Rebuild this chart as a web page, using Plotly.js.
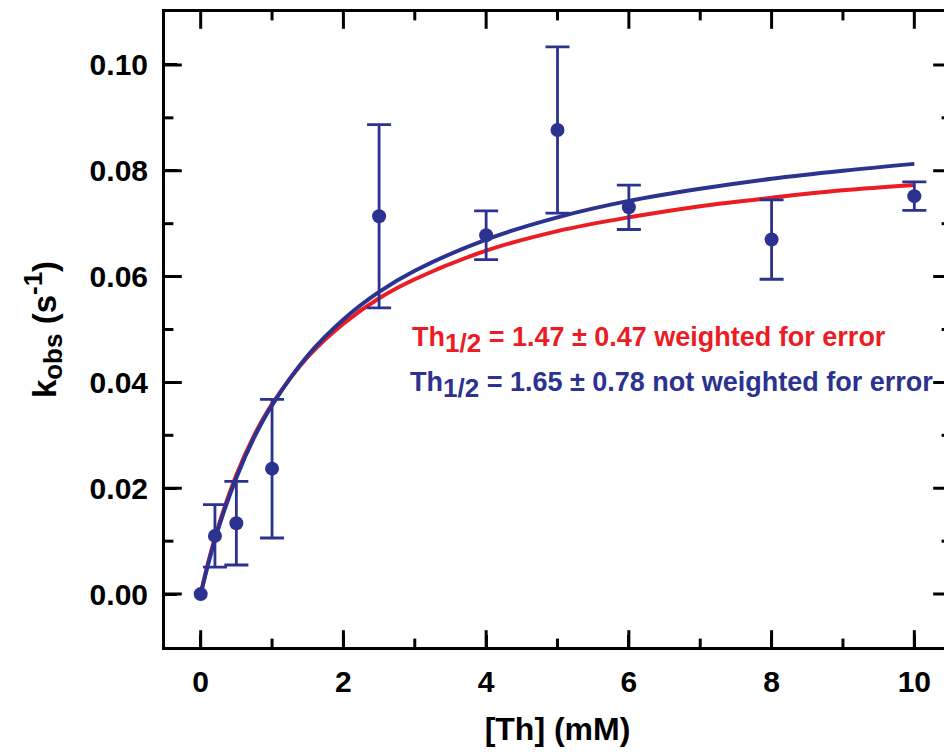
<!DOCTYPE html>
<html>
<head>
<meta charset="utf-8">
<script src="https://cdn.plot.ly/plotly-3.0.1.min.js"></script>
<style>
html,body{margin:0;padding:0;overflow:hidden;background:#fff;}
#chart{width:960px;height:752px;}
</style>
</head>
<body>
<div id="chart"></div>
<script>
// Measured data
const thConc = [0, 0.2, 0.5, 1, 2.5, 4, 5, 6, 8, 10];
const kObs   = [0, 0.0110, 0.0134, 0.0237, 0.0714, 0.0678, 0.0877, 0.0731, 0.0670, 0.0752];
const kErr   = [0, 0.0059, 0.0079, 0.0131, 0.0173, 0.0046, 0.0157, 0.0042, 0.0075, 0.0027];

// Fit curves
const fitX        = [0, 0.1, 0.25, 0.5, 0.75, 1, 1.5, 2, 2.5, 3, 4, 5, 6, 7, 8, 9, 10];
const fitWeighted = [0, 0.0057, 0.0129, 0.0225, 0.0300, 0.0359, 0.0448, 0.0511, 0.0559, 0.0595, 0.0649, 0.0686, 0.0712, 0.0733, 0.0749, 0.0763, 0.0773];
const fitUnweighted = [0, 0.0054, 0.0125, 0.0220, 0.0296, 0.0357, 0.0451, 0.0519, 0.0571, 0.0611, 0.0670, 0.0712, 0.0743, 0.0766, 0.0785, 0.0800, 0.0813];

// Axis ranges and ticks
const xRange = [-0.5, 10.5];
const yRange = [-0.01, 0.11];
const xMajor = [0, 2, 4, 6, 8, 10];
const xMinor = [1, 3, 5, 7, 9];
const yMajor = [0, 0.02, 0.04, 0.06, 0.08, 0.10];
const yMinor = [0.01, 0.03, 0.05, 0.07, 0.09];

const NAVY = '#2B3290';
const RED = '#EC1C24';
const FONT = 'Liberation Sans, Arial, sans-serif';

const withErr = thConc.map((_, i) => i).filter(i => kErr[i] > 0);
const noErr = thConc.map((_, i) => i).filter(i => !(kErr[i] > 0));

// inward tick marks on all four sides: line markers centred on the frame, clipped to the plot area
function tickTrace(xs, ys, symbol, size) {
  return {x: xs, y: ys, mode: 'markers', cliponaxis: true, hoverinfo: 'skip',
    marker: {symbol: symbol, size: size, color: '#000', line: {color: '#000', width: 3}}};
}
const tickTraces = [
  tickTrace(xMajor, xMajor.map(() => yRange[0]), 'line-ns', 24),
  tickTrace(xMajor, xMajor.map(() => yRange[1]), 'line-ns', 24),
  tickTrace(xMinor, xMinor.map(() => yRange[0]), 'line-ns', 12),
  tickTrace(xMinor, xMinor.map(() => yRange[1]), 'line-ns', 12),
  tickTrace(yMajor.map(() => xRange[0]), yMajor, 'line-ew', 24),
  tickTrace(yMajor.map(() => xRange[1]), yMajor, 'line-ew', 24),
  tickTrace(yMinor.map(() => xRange[0]), yMinor, 'line-ew', 12),
  tickTrace(yMinor.map(() => xRange[1]), yMinor, 'line-ew', 12)
];

const traces = tickTraces.concat([
  {x: fitX, y: fitWeighted, mode: 'lines', line: {color: RED, width: 4, shape: 'spline', smoothing: 1}, hoverinfo: 'skip'},
  {x: fitX, y: fitUnweighted, mode: 'lines', line: {color: NAVY, width: 4, shape: 'spline', smoothing: 1}, hoverinfo: 'skip'},
  {x: withErr.map(i => thConc[i]), y: withErr.map(i => kObs[i]), mode: 'markers',
   marker: {color: NAVY, size: 14, symbol: 'circle'},
   error_y: {type: 'data', array: withErr.map(i => kErr[i]), visible: true, color: NAVY, thickness: 2.8, width: 12}},
  {x: noErr.map(i => thConc[i]), y: noErr.map(i => kObs[i]), mode: 'markers',
   marker: {color: NAVY, size: 14, symbol: 'circle'}}
]);

const axisCommon = {
  showline: true, linecolor: '#000', linewidth: 3, mirror: true,
  ticks: 'inside', ticklen: 12, tickwidth: 3, tickcolor: '#000',
  showgrid: false, zeroline: false,
  tickfont: {family: FONT, size: 30, color: '#000', weight: 'bold'}
};

const layout = {
  width: 960, height: 752,
  margin: {l: 165, r: 10, t: 12, b: 105},
  paper_bgcolor: '#fff', plot_bgcolor: '#fff',
  showlegend: false,
  font: {family: FONT},
  xaxis: Object.assign({}, axisCommon, {
    range: xRange, tickvals: xMajor,
    ticklabelstandoff: 6,
    title: {text: '[Th] (mM)', font: {family: FONT, size: 32, color: '#000', weight: 'bold'}, standoff: 21}
  }),
  yaxis: Object.assign({}, axisCommon, {
    range: yRange, tickvals: yMajor, tickformat: '.2f',
    ticklabelstandoff: 8,
    title: {text: 'k<sub><span style="font-size:26px">obs</span></sub> (s<sup><span style="font-size:26px">-1</span></sup>)', font: {family: FONT, size: 33, color: '#000', weight: 'bold'}, standoff: 24}
  }),
  annotations: [
    {x: 2.94, y: 0.0481, xref: 'x', yref: 'y', xanchor: 'left', yanchor: 'middle', showarrow: false,
     text: 'Th<sub><span style="font-size:26px">1/2</span></sub> = 1.47 ± 0.47 weighted for error',
     font: {family: FONT, size: 27, color: RED, weight: 'bold'}},
    {x: 2.91, y: 0.0396, xref: 'x', yref: 'y', xanchor: 'left', yanchor: 'middle', showarrow: false,
     text: 'Th<sub><span style="font-size:26px">1/2</span></sub> = 1.65 ± 0.78 not weighted for error',
     font: {family: FONT, size: 27, color: NAVY, weight: 'bold'}}
  ]
};

Plotly.newPlot('chart', traces, layout, {displayModeBar: false, staticPlot: true});
</script>
</body>
</html>
